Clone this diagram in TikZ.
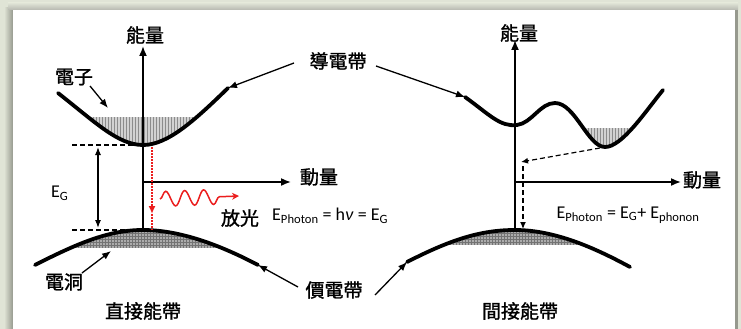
\documentclass[tikz,border=0pt]{standalone}
\usepackage{fontspec}
\setmainfont{Carlito}
\newfontfamily\cjk[FakeBold=1.2]{Noto Sans CJK TC}
\usetikzlibrary{arrows.meta,decorations.pathmorphing,patterns}
\definecolor{bgc}{RGB}{224,228,214}
\definecolor{shc}{RGB}{150,153,142}
\definecolor{redc}{RGB}{235,30,30}
\tikzset{
  band/.style={line width=3.8pt, line cap=round},
  axis/.style={line width=1.6pt, -{Latex[length=10pt,width=8pt]}},
  ptr/.style={line width=1.3pt, -{Latex[length=9pt,width=7pt]}},
  cj/.style={font=\cjk\fontsize{19}{21}\selectfont, inner sep=0pt},
  lat/.style={font=\fontsize{18}{20}\selectfont, inner sep=0pt},
  dsh/.style={line width=1.2pt, dash pattern=on 5pt off 3pt},
  cshade/.style={fill=gray!35, postaction={pattern=vertical lines, pattern color=gray!90}},
  vshade/.style={fill=gray!65, postaction={pattern=grid, pattern color=black!55}},
}
\begin{document}
\begin{tikzpicture}[x=1pt,y=-1pt]
\useasboundingbox (0,0) rectangle (741,329);
% frame
\fill[bgc] (0,0) rectangle (741,329);
\shade[left color=bgc, right color=shc] (4,8) rectangle (13,329);
\shade[top color=bgc, bottom color=shc!70] (8,3) rectangle (738,10);
\fill[shc] (735,10) rectangle (738,329);
\fill[white] (13,10) rectangle (735,329);

% ================= left: direct =================
\begin{scope}
\clip (0,117) rectangle (741,200);
\path[cshade] (58,93) .. controls (95,122) and (118,145) .. (143,145) .. controls (168,145) and (195,120) .. (228,88) -- cycle;
\end{scope}
\begin{scope}
\clip (0,226) rectangle (741,247);
\path[vshade] (35,265) .. controls (80,242) and (110,230) .. (143,230) .. controls (180,230) and (220,245) .. (258,265) -- cycle;
\end{scope}

\coordinate (cbL) at (143,145);
\coordinate (vbL) at (143,230);
\draw[band] (58,93) .. controls (95,122) and (118,145) .. (cbL) .. controls (168,145) and (195,120) .. (228,88) coordinate (cbLend);
\draw[band] (35,265) coordinate (vbLstart) .. controls (80,242) and (110,230) .. (vbL) .. controls (180,230) and (220,245) .. (258,265) coordinate (vbLend);

% axes
\coordinate (oL) at (143,182);
\coordinate (yL) at (143,46);
\coordinate (xL) at (291,182);
\draw[axis] (vbL) -- (yL);
\draw[axis] (oL) -- (xL);
\node[cj] (eL) at (145,35) {能量};
\node[cj] (mL) at (319,177) {動量};

% dashed guides and E_G
\coordinate (d1) at (72,145);
\coordinate (d2) at (72,230);
\draw[dsh] (d1) -- (cbL);
\draw[dsh] (d2) -- (vbL);
\coordinate (g1) at (98,147);
\coordinate (g2) at (98,228);
\draw[line width=1.2pt, {Latex[length=8pt,width=6pt]}-{Latex[length=8pt,width=6pt]}] (g1) -- (g2);
\node[lat, anchor=west] (EG) at (51,193) {E\textsubscript{G}};

% red dotted transition
\coordinate (r1) at (152,147);
\coordinate (r2) at (152,214);
\coordinate (r3) at (152,230);
\draw[redc, line width=2pt, dash pattern=on 1.5pt off 1.5pt, -{Latex[length=8pt,width=7pt]}] (r1) -- (r2);
\draw[redc, line width=2pt, dash pattern=on 1.5pt off 1.5pt] (r2) -- (r3);
% wavy photon
\coordinate (w1) at (160,199);
\coordinate (w2) at (239,196);
\draw[redc, line width=1.5pt, -{Stealth[length=7pt,width=7pt]},
  decorate, decoration={snake, amplitude=7.5pt, segment length=19pt, post length=13pt}] (w1) -- (w2);
\node[cj] (fg) at (240,218) {放光};
\node[lat, anchor=west] (epL) at (272,216) {E\textsubscript{Photon} = h\textit{ν} = E\textsubscript{G}};

% labels with pointers
\node[cj] (ez) at (74,77) {電子};
\coordinate (ezt) at (108,108);
\draw[ptr] (90,86) -- (ezt);
\node[cj] (ed) at (64,282) {電洞};
\coordinate (edt) at (111,251);
\draw[ptr] (82,273) -- (edt);
\node[cj] (zj) at (143,311) {直接能帶};

% ================= right: indirect =================
\begin{scope}
\clip (0,128) rectangle (741,200);
\path[cshade] (555,103) .. controls (575,103) and (588,147) .. (605,147) .. controls (622,147) and (645,112) .. (663,90) -- cycle;
\end{scope}
\begin{scope}
\clip (0,226) rectangle (741,244);
\path[vshade] (407,262) .. controls (450,240) and (480,230) .. (515,230) .. controls (555,230) and (595,248) .. (630,267) -- cycle;
\end{scope}

\coordinate (cbR) at (605,147);
\coordinate (vbR) at (515,230);
\draw[band] (465,97) coordinate (cbRstart) .. controls (490,115) and (500,127) .. (517,125) .. controls (532,123) and (540,103) .. (555,103) .. controls (575,103) and (588,147) .. (cbR) .. controls (622,147) and (645,112) .. (663,90);
\draw[band] (407,262) coordinate (vbRstart) .. controls (450,240) and (480,230) .. (vbR) .. controls (555,230) and (595,248) .. (630,267);

\coordinate (oR) at (515,182);
\coordinate (yR) at (515,40);
\coordinate (xR) at (681,182);
\draw[axis] (vbR) -- (yR);
\draw[axis] (oR) -- (xR);
\node[cj] (eR) at (519,33) {能量};
\node[cj] (mR) at (702,180) {動量};

\coordinate (k1) at (600,148);
\coordinate (k2) at (521,162);
\draw[dsh, -{Latex[length=7pt,width=6pt]}] (k1) -- (k2);
\coordinate (k3) at (523,166);
\coordinate (k4) at (523,229);
\draw[dsh, -{Latex[length=7pt,width=6pt]}] (k3) -- (k4);
\node[lat] (epR) at (628,215) {E\textsubscript{Photon} = E\textsubscript{G}+ E\textsubscript{phonon}};
\node[cj] (jj) at (520,311) {間接能帶};

% shared labels
\node[cj] (cb) at (338,61) {導電帶};
\draw[ptr] (294,63) -- (cbLend);
\draw[ptr] (376,66) -- (cbRstart);
\node[cj] (vb) at (334,290) {價電帶};
\draw[ptr] (298,287) -- (vbLend);
\draw[ptr] (375,295) -- (vbRstart);
\end{tikzpicture}
\end{document}
